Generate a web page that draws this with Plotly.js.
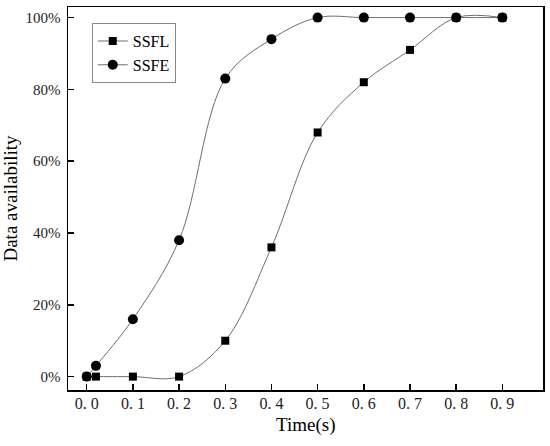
<!DOCTYPE html>
<html><head><meta charset="utf-8">
<script src="https://cdn.plot.ly/plotly-3.0.1.min.js"></script>
<style>html,body{margin:0;padding:0;background:#fff}#chart{width:550px;height:446px}</style>
</head><body><div id="chart"></div>
<script>
const timeSSFL = [0, 0.02, 0.1, 0.2, 0.3, 0.4, 0.5, 0.6, 0.7, 0.8, 0.9];
const valSSFL  = [0, 0, 0, 0, 10, 36, 68, 82, 91, 100, 100];
const timeSSFE = [0, 0.02, 0.1, 0.2, 0.3, 0.4, 0.5, 0.6, 0.7, 0.8, 0.9];
const valSSFE  = [0, 3, 16, 38, 83, 94, 100, 100, 100, 100, 100];
const xTickVals = [0, 0.1, 0.2, 0.3, 0.4, 0.5, 0.6, 0.7, 0.8, 0.9];
const xTickText = ['0. 0','0. 1','0. 2','0. 3','0. 4','0. 5','0. 6','0. 7','0. 8','0. 9'];
const yTickVals = [0, 20, 40, 60, 80, 100];
const yTickText = ['0%','20%','40%','60%','80%','100%'];
const xTitle = 'Time(s)';
const yTitle = 'Data availability';

const serif = 'Liberation Serif';
const traces = [
  {x: timeSSFL, y: valSSFL, name: 'SSFL', mode: 'lines+markers',
   line: {shape: 'spline', smoothing: 1, color: '#6e6e6e', width: 1},
   marker: {symbol: 'square', size: 8, color: '#000'}},
  {x: timeSSFE, y: valSSFE, name: 'SSFE', mode: 'lines+markers',
   line: {shape: 'spline', smoothing: 1, color: '#6e6e6e', width: 1},
   marker: {symbol: 'circle', size: 10, color: '#000'}}
];
const layout = {
  width: 550, height: 446,
  margin: {l: 68, r: 7, t: 7, b: 56},
  paper_bgcolor: '#fff', plot_bgcolor: '#fff',
  font: {family: serif, color: '#000'},
  showlegend: true,
  legend: {x: 0.05, y: 0.958, xanchor: 'left', yanchor: 'top',
           bgcolor: '#fff', bordercolor: '#888', borderwidth: 1,
           font: {family: serif, size: 16, color: '#000'},
           tracegroupgap: 0, itemwidth: 30},
  xaxis: {range: [-0.0405, 0.988], tickvals: xTickVals, ticktext: xTickText,
          ticks: 'inside', ticklen: 6, tickwidth: 1.5, tickcolor: '#000',
          showline: true, linecolor: '#000', linewidth: 1.5, mirror: true,
          showgrid: false, zeroline: false,
          tickfont: {family: serif, size: 16, color: '#222'},
          ticklabelstandoff: -2},
  yaxis: {range: [-3.73, 102.95], tickvals: yTickVals, ticktext: yTickText,
          ticks: 'inside', ticklen: 6, tickwidth: 1.5, tickcolor: '#000',
          showline: true, linecolor: '#000', linewidth: 1.5, mirror: true,
          showgrid: false, zeroline: false,
          tickfont: {family: serif, size: 15, color: '#222'},
          ticklabelstandoff: 3,
          title: {text: yTitle, font: {family: serif, size: 19, color: '#000'}, standoff: 8}},
  annotations: [
    {text: xTitle, xref: 'paper', yref: 'paper', x: 0.5, y: -0.092,
     xanchor: 'center', yanchor: 'middle', showarrow: false,
     font: {family: serif, size: 19, color: '#000'}}
  ]
};
Plotly.newPlot('chart', traces, layout, {displayModeBar: false, staticPlot: true});
</script></body></html>
